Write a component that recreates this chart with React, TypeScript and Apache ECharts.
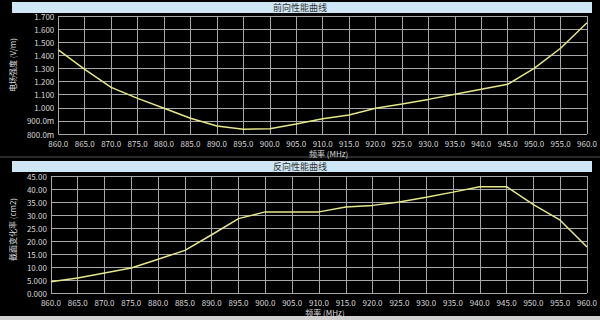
import React, { useEffect, useRef } from "react";
import * as echarts from "echarts";

const freqs = [860, 865, 870, 875, 880, 885, 890, 895, 900, 905, 910, 915, 920, 925, 930, 935, 940, 945, 950, 955, 960];
const forwardField = [1.441, 1.293, 1.156, 1.072, 0.996, 0.92, 0.861, 0.836, 0.84, 0.876, 0.917, 0.945, 0.996, 1.029, 1.064, 1.103, 1.141, 1.179, 1.301, 1.454, 1.649];
const reverseRate = [4.3, 5.8, 7.7, 9.6, 13.0, 16.4, 22.4, 28.6, 31.2, 31.2, 31.2, 33.1, 33.7, 35.0, 36.8, 38.8, 40.9, 40.9, 34.0, 28.0, 17.7];

const topTitle = "前向性能曲线";
const bottomTitle = "反向性能曲线";
const xName = "频率 (MHz)";
const topYName = "电场强度 (V/m)";
const bottomYName = "截面变化率 (cm2)";

const FONT = "'Noto Sans CJK SC', 'Noto Sans', sans-serif";

export default function App() {
  const ref = useRef<HTMLDivElement>(null);
  useEffect(() => {
    const chart = echarts.init(ref.current!, null, { renderer: "svg" });
    const labelStyle = { color: "#d8d8d8", fontSize: 8, fontFamily: FONT };
    const gridLine = { show: true, lineStyle: { color: "#a8a8a8", width: 1 } };
    const xAxisBase = {
      type: "value" as const,
      min: 860,
      max: 960,
      interval: 5,
      axisLine: { show: false },
      axisTick: { show: false },
      splitLine: gridLine,
      axisLabel: { ...labelStyle, margin: 5, formatter: (v: number) => v.toFixed(1) },
      name: xName,
      nameLocation: "middle" as const,
      nameGap: 15,
      nameTextStyle: { color: "#d8d8d8", fontSize: 8, fontFamily: FONT, padding: [0, 0, 0, 12] },
    };
    const pairs1 = freqs.map((f, i) => [f, forwardField[i]]);
    const pairs2 = freqs.map((f, i) => [f, reverseRate[i]]);
    chart.setOption({
      animation: false,
      backgroundColor: "#000000",
      grid: [
        { left: 40, right: 10, top: 16, height: 118 },
        { left: 40, right: 10, top: 176, height: 117 },
      ],
      xAxis: [
        { ...xAxisBase, gridIndex: 0 },
        { ...xAxisBase, gridIndex: 1 },
      ],
      yAxis: [
        {
          type: "value",
          gridIndex: 0,
          min: 0.8,
          max: 1.7,
          interval: 0.1,
          axisLine: { show: false },
          axisTick: { show: false },
          splitLine: gridLine,
          axisLabel: {
            ...labelStyle,
            margin: 4,
            formatter: (v: number) => (v >= 0.999 ? v.toFixed(3) : (v * 1000).toFixed(1) + "m"),
          },
          name: topYName,
          nameLocation: "middle",
          nameGap: 28,
          nameTextStyle: { color: "#d8d8d8", fontSize: 8, fontFamily: FONT, padding: [0, 0, 0, 20] },
        },
        {
          type: "value",
          gridIndex: 1,
          min: 0,
          max: 45,
          interval: 5,
          axisLine: { show: false },
          axisTick: { show: false },
          splitLine: gridLine,
          axisLabel: {
            ...labelStyle,
            margin: 4,
            formatter: (v: number) => (v >= 10 ? v.toFixed(2) : v.toFixed(3)),
          },
          name: bottomYName,
          nameLocation: "middle",
          nameGap: 28,
          nameTextStyle: { color: "#d8d8d8", fontSize: 8, fontFamily: FONT, padding: [0, 0, 0, 10] },
        },
      ],
      series: [
        {
          type: "line",
          xAxisIndex: 0,
          yAxisIndex: 0,
          data: pairs1,
          showSymbol: false,
          lineStyle: { color: "#e6e68a", width: 1.5 },
        },
        {
          type: "line",
          xAxisIndex: 1,
          yAxisIndex: 1,
          data: pairs2,
          showSymbol: false,
          lineStyle: { color: "#e6e68a", width: 1.5 },
        },
      ],
      graphic: [
        { type: "rect", shape: { x: 12, y: 2, width: 580, height: 11 }, style: { fill: "#cfe6f4" } },
        {
          type: "text",
          x: 300,
          y: 7.5,
          style: { text: topTitle, fill: "#333", fontSize: 9, fontFamily: FONT, align: "center", verticalAlign: "middle" },
        },
        { type: "line", shape: { x1: 0, y1: 157, x2: 600, y2: 157 }, style: { stroke: "#555", lineWidth: 1 } },
        { type: "rect", shape: { x: 12, y: 161, width: 580, height: 11 }, style: { fill: "#cfe6f4" } },
        {
          type: "text",
          x: 300,
          y: 166.5,
          style: { text: bottomTitle, fill: "#333", fontSize: 9, fontFamily: FONT, align: "center", verticalAlign: "middle" },
        },
        { type: "rect", shape: { x: 0, y: 316, width: 600, height: 4 }, style: { fill: "#d0d0d0" } },
      ],
    });
    return () => chart.dispose();
  }, []);
  return <div ref={ref} style={{ width: 600, height: 320, position: "fixed", left: 0, top: 0 }} />;
}
